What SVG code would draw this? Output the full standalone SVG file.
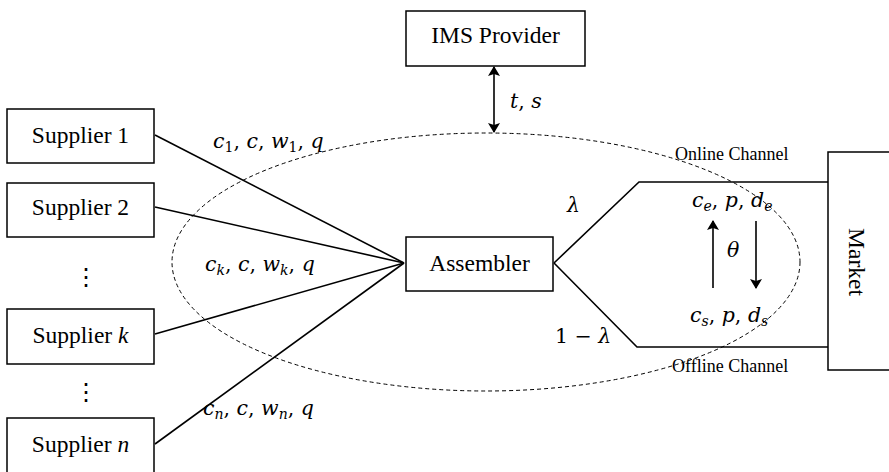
<svg xmlns="http://www.w3.org/2000/svg" width="889" height="472" viewBox="0 0 889 472">
  <defs>
    <marker id="head" viewBox="0 0 10 12" refX="9" refY="6" markerWidth="11" markerHeight="12" markerUnits="userSpaceOnUse" orient="auto-start-reverse">
      <path d="M0,0 L10,6 L0,12 L2,6 Z" fill="#000"/>
    </marker>
    <style>
      .box { fill: #fff; stroke: #000; stroke-width: 1.5; }
      .lbl { font-family: "Liberation Serif", "Times New Roman", serif; font-size: 23.5px; fill: #000; }
      .small { font-family: "Liberation Serif", "Times New Roman", serif; font-size: 18px; fill: #000; }
      .math { font-family: "DejaVu Serif", "Liberation Serif", serif; font-size: 20.5px; fill: #000; }
      .v { font-style: italic; }
      .sub { font-style: italic; font-size: 14px; }
      .num { font-size: 14px; }
      .edge { fill: none; stroke: #000; stroke-width: 1.6; }
      .dash { fill: none; stroke: #000; stroke-width: 1; stroke-dasharray: 4 3; }
    </style>
  </defs>

  <rect width="889" height="472" fill="#fff"/>

  <!-- boundary of the assembler's system -->
  <ellipse class="dash" cx="486" cy="262" rx="314" ry="129"/>

  <g id="connectors">
    <line class="edge" x1="155" y1="135" x2="404" y2="263"/>
    <line class="edge" x1="155" y1="207" x2="404" y2="263"/>
    <line class="edge" x1="155" y1="334" x2="404" y2="263"/>
    <line class="edge" x1="155" y1="444" x2="404" y2="263"/>
    <line class="edge" x1="494" y1="67" x2="494" y2="132" marker-start="url(#head)" marker-end="url(#head)"/>
    <polyline class="edge" points="554,263 639,182 828,182"/>
    <polyline class="edge" points="554,263 637,347 828,347"/>
    <line class="edge" x1="713" y1="288" x2="713" y2="221" marker-end="url(#head)"/>
    <line class="edge" x1="756" y1="221" x2="756" y2="288" marker-end="url(#head)"/>
  </g>

  <g id="supplier-1">
    <rect class="box" x="7" y="109" width="147" height="54"/>
    <text class="lbl" x="80.5" y="143" text-anchor="middle">Supplier 1</text>
  </g>
  <g id="supplier-2">
    <rect class="box" x="7" y="183" width="147" height="54"/>
    <text class="lbl" x="80.5" y="215" text-anchor="middle">Supplier 2</text>
  </g>
  <text class="lbl" x="86" y="285" text-anchor="middle">⋮</text>
  <g id="supplier-k">
    <rect class="box" x="7" y="309" width="147" height="55"/>
    <text class="lbl" x="80.5" y="343" text-anchor="middle">Supplier <tspan font-style="italic">k</tspan></text>
  </g>
  <text class="lbl" x="86" y="400" text-anchor="middle">⋮</text>
  <g id="supplier-n">
    <rect class="box" x="7" y="418" width="147" height="60"/>
    <text class="lbl" x="80.5" y="452" text-anchor="middle">Supplier <tspan font-style="italic">n</tspan></text>
  </g>

  <g id="ims-provider">
    <rect class="box" x="406" y="11" width="179" height="55"/>
    <text class="lbl" x="495.5" y="43" text-anchor="middle">IMS Provider</text>
  </g>

  <g id="assembler">
    <rect class="box" x="406" y="237" width="147" height="54"/>
    <text class="lbl" x="479.5" y="271" text-anchor="middle">Assembler</text>
  </g>

  <g id="market">
    <rect class="box" x="828" y="152" width="70" height="218"/>
    <text class="lbl" transform="translate(849,262) rotate(90)" text-anchor="middle">Market</text>
  </g>

  <!-- flow labels -->
  <text class="math" x="213" y="148"><tspan class="v">c</tspan><tspan class="num" dy="4">1</tspan><tspan dy="-4">, </tspan><tspan class="v">c</tspan>, <tspan class="v">w</tspan><tspan class="num" dy="4">1</tspan><tspan dy="-4">, </tspan><tspan class="v">q</tspan></text>
  <text class="math" x="205" y="271"><tspan class="v">c</tspan><tspan class="sub" dy="4">k</tspan><tspan dy="-4">, </tspan><tspan class="v">c</tspan>, <tspan class="v">w</tspan><tspan class="sub" dy="4">k</tspan><tspan dy="-4">, </tspan><tspan class="v">q</tspan></text>
  <text class="math" x="203" y="415"><tspan class="v">c</tspan><tspan class="sub" dy="4">n</tspan><tspan dy="-4">, </tspan><tspan class="v">c</tspan>, <tspan class="v">w</tspan><tspan class="sub" dy="4">n</tspan><tspan dy="-4">, </tspan><tspan class="v">q</tspan></text>
  <text class="math" x="510" y="108"><tspan class="v">t</tspan>, <tspan class="v">s</tspan></text>
  <text class="math" x="567" y="212"><tspan class="v">λ</tspan></text>
  <text class="math" x="555" y="343">1 − <tspan class="v">λ</tspan></text>
  <text class="math" x="692" y="207"><tspan class="v">c</tspan><tspan class="sub" dy="4">e</tspan><tspan dy="-4">, </tspan><tspan class="v">p</tspan>, <tspan class="v">d</tspan><tspan class="sub" dy="4">e</tspan></text>
  <text class="math" x="690" y="322"><tspan class="v">c</tspan><tspan class="sub" dy="4">s</tspan><tspan dy="-4">, </tspan><tspan class="v">p</tspan>, <tspan class="v">d</tspan><tspan class="sub" dy="4">s</tspan></text>
  <text class="math" x="727" y="257"><tspan class="v">θ</tspan></text>
  <text class="small" x="675" y="160">Online Channel</text>
  <text class="small" x="672" y="372">Offline Channel</text>
</svg>
